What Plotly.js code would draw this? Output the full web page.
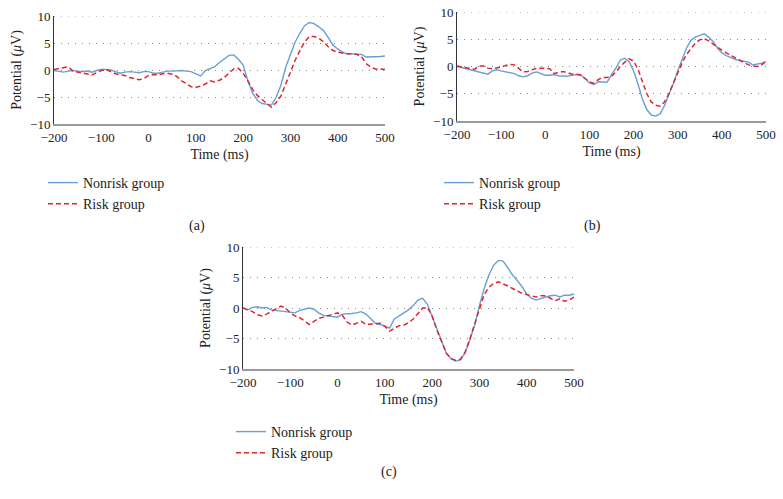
<!DOCTYPE html>
<html>
<head>
<meta charset="utf-8">
<script src="https://cdn.plot.ly/plotly-3.0.1.min.js"></script>
<style>html,body{margin:0;padding:0;background:#fff;}#chart{width:783px;height:499px;}</style>
</head>
<body>
<div id="chart"></div>
<script>
// Time axis (ms)
const time = [-200,-190,-180,-170,-160,-150,-140,-130,-120,-110,-100,-90,-80,-70,-60,-50,-40,-30,-20,-10,
  0,10,20,30,40,50,60,70,80,90,100,110,120,130,140,150,160,170,180,190,
  200,210,220,230,240,250,260,270,280,290,300,310,320,330,340,350,360,370,380,390,
  400,410,420,430,440,450,460,470,480,490,500];

// Panel (a)
const a_nonrisk = [-0.1,-0.3,-0.4,-0.2,-0.1,-0.2,-0.3,-0.2,-0.4,-0.1,0.1,0.1,0.0,-0.3,-0.6,-0.4,-0.3,-0.4,-0.5,-0.3,
  -0.3,-0.6,-0.6,-0.4,-0.2,-0.2,-0.1,-0.1,-0.2,-0.3,-0.7,-1.1,-0.1,0.2,0.6,1.4,2.0,2.7,2.8,2.0,
  0.9,-2.0,-4.3,-5.6,-6.2,-6.4,-6.5,-5.0,-2.8,0.5,3.0,5.2,6.8,8.2,8.8,8.6,8.0,7.3,6.0,4.6,
  3.9,3.3,3.0,3.0,3.0,2.9,2.4,2.4,2.4,2.5,2.6];
const a_risk = [0.1,0.3,0.4,0.6,-0.2,-0.4,-0.5,-0.7,-0.9,-0.5,-0.1,0.1,-0.3,-0.7,-0.9,-1.0,-1.4,-1.6,-1.8,-1.6,
  -1.0,-0.9,-0.9,-0.7,-0.6,-0.8,-1.2,-2.0,-2.6,-3.1,-3.2,-3.0,-2.6,-2.0,-2.2,-1.9,-1.4,-0.6,0.2,0.3,
  -0.6,-2.0,-3.6,-4.7,-5.5,-6.2,-6.9,-6.0,-4.8,-2.5,-0.3,1.8,3.6,5.2,6.2,6.2,5.9,5.2,4.3,3.6,
  3.3,3.1,3.0,3.0,2.9,2.5,1.2,0.5,0.2,0.2,0.1];

// Panel (b)
const b_nonrisk = [0.0,-0.2,-0.3,-0.5,-0.7,-0.9,-1.1,-1.4,-0.8,-0.6,-0.8,-1.0,-1.1,-1.3,-1.7,-1.9,-1.7,-1.2,-1.0,-1.3,
  -1.6,-1.6,-1.5,-1.7,-1.8,-1.8,-1.6,-1.5,-1.6,-2.2,-3.0,-3.3,-2.8,-2.8,-2.9,-1.5,-0.3,1.2,1.5,0.9,
  -0.8,-3.2,-6.0,-7.9,-8.9,-9.1,-8.7,-7.2,-5.3,-3.1,-0.8,1.2,3.4,4.8,5.4,5.7,6.0,5.4,4.6,3.4,
  2.5,2.0,1.6,1.3,1.1,0.9,0.8,0.3,0.4,0.6,0.9];
const b_risk = [0.1,-0.1,-0.2,-0.4,-0.5,0.1,0.1,-0.3,-0.4,-0.3,-0.1,0.2,0.4,0.3,-0.3,-1.0,-0.9,-0.6,-0.3,-0.3,
  -0.3,-0.4,-1.3,-1.1,-0.9,-1.1,-1.4,-1.4,-1.5,-2.2,-2.8,-3.1,-2.4,-2.0,-2.0,-1.8,-1.0,0.0,0.8,1.4,
  1.0,-0.5,-2.8,-5.0,-6.5,-7.1,-7.3,-6.5,-5.0,-3.0,-1.0,0.7,2.2,3.3,4.3,4.9,5.1,4.7,4.1,3.5,
  3.0,2.5,2.0,1.6,1.2,0.8,0.3,0.1,0.0,0.3,0.9];

// Panel (c)
const c_nonrisk = [0.0,-0.3,0.1,0.2,0.0,0.1,-0.3,-0.4,-0.5,-0.5,-0.6,-0.8,-0.4,-0.2,0.0,-0.2,-0.8,-1.2,-1.3,-1.3,
  -1.5,-1.0,-1.0,-0.9,-0.8,-0.6,-1.0,-1.8,-2.5,-2.7,-3.0,-3.3,-1.8,-1.3,-0.9,-0.3,0.4,1.3,1.6,0.6,
  -1.4,-3.5,-5.6,-7.4,-8.3,-8.7,-8.5,-7.3,-5.2,-2.8,0.4,3.2,5.4,7.0,7.8,7.7,6.6,5.4,4.5,3.5,
  2.3,1.6,1.3,1.6,1.8,2.0,2.1,1.8,2.1,2.1,2.3];
const c_risk = [0.0,-0.3,-0.6,-1.1,-1.3,-1.0,-0.6,-0.1,0.3,0.0,-0.8,-1.3,-1.6,-2.1,-2.7,-2.2,-1.7,-1.5,-1.3,-1.0,
  -0.8,-1.2,-2.3,-2.8,-2.5,-2.2,-2.7,-2.7,-2.6,-2.5,-3.0,-3.8,-3.3,-2.9,-2.8,-2.4,-1.8,-0.9,0.0,0.1,
  -1.3,-3.6,-5.6,-7.4,-8.3,-8.6,-8.4,-7.2,-5.0,-2.5,0.0,2.2,3.4,4.0,4.3,4.0,3.6,3.2,2.8,2.4,
  2.2,2.0,1.8,2.0,2.0,1.6,1.2,1.5,1.1,1.3,1.8];

const xTickVals = [-200,-100,0,100,200,300,400,500];
const yTickVals = [-10,-5,0,5,10];
const seriesNames = ['Nonrisk group','Risk group'];
const panelLabels = ['(a)','(b)','(c)'];

const SERIF = '"Liberation Serif", "DejaVu Serif", serif';
const BLUE = '#6a9fd6';
const RED = '#e0262b';
const GRID = '#8a8a8a';
const W = 783, H = 499;

function px(v){ return v / W; }
function py(v){ return 1 - v / H; }

const panels = [
  {nr: a_nonrisk, r: a_risk, x0: 54, x1: 385, yt: 16, yb: 124, leg: {x: 43, y: 167}, lab: {x: 197, y: 226}},
  {nr: b_nonrisk, r: b_risk, x0: 457, x1: 766, yt: 12, yb: 121, leg: {x: 439, y: 167}, lab: {x: 592, y: 226}},
  {nr: c_nonrisk, r: c_risk, x0: 243, x1: 574, yt: 247, yb: 369, leg: {x: 231, y: 416}, lab: {x: 389, y: 472}}
];

const data = [];
const layout = {
  width: W, height: H,
  margin: {l: 0, r: 0, t: 0, b: 0},
  paper_bgcolor: '#ffffff', plot_bgcolor: '#ffffff',
  font: {family: SERIF, size: 13, color: '#222'},
  showlegend: true,
  annotations: [],
  shapes: []
};

panels.forEach((p, i) => {
  const sfx = i === 0 ? '' : String(i + 1);
  const legKey = 'legend' + sfx;
  data.push({
    x: time, y: p.nr, type: 'scatter', mode: 'lines', name: seriesNames[0],
    xaxis: 'x' + sfx, yaxis: 'y' + sfx, legend: legKey,
    line: {color: BLUE, width: 1.4}
  });
  data.push({
    x: time, y: p.r, type: 'scatter', mode: 'lines', name: seriesNames[1],
    xaxis: 'x' + sfx, yaxis: 'y' + sfx, legend: legKey,
    line: {color: RED, width: 1.5, dash: '5px,3px'}
  });
  layout['xaxis' + sfx] = {
    domain: [px(p.x0), px(p.x1)], anchor: 'y' + sfx,
    range: [-200, 500], tickvals: xTickVals, ticks: '',
    showgrid: false, zeroline: false,
    showline: true, linecolor: '#9a9a9a', linewidth: 2,
    tickfont: {family: SERIF, size: 13, color: '#222'},
    title: {text: 'Time (ms)', font: {family: SERIF, size: 14, color: '#222'}, standoff: 6}
  };
  layout['yaxis' + sfx] = {
    domain: [py(p.yb), py(p.yt)], anchor: 'x' + sfx,
    range: [-10, 10], tickvals: yTickVals, ticks: '',
    showgrid: true, gridcolor: GRID, gridwidth: 1, griddash: '1px,6px',
    zeroline: false,
    showline: true, linecolor: '#333', linewidth: 1,
    tickfont: {family: SERIF, size: 13, color: '#222'},
    title: {text: 'Potential (<i>μ</i>V)', font: {family: SERIF, size: 14, color: '#222'}, standoff: 5}
  };
  // top dotted gridline at the upper range edge (Plotly drops the edge gridline)
  layout.shapes.push({
    type: 'line', xref: 'x' + sfx + ' domain', yref: 'y' + sfx,
    x0: 0, x1: 1, y0: yTickVals[yTickVals.length - 1], y1: yTickVals[yTickVals.length - 1],
    line: {color: GRID, width: 1, dash: '1px,6px'}, layer: 'below'
  });
  layout[legKey] = {
    x: px(p.leg.x), y: py(p.leg.y), xanchor: 'left', yanchor: 'top',
    xref: 'paper', yref: 'paper',
    bgcolor: 'rgba(0,0,0,0)', borderwidth: 0,
    font: {family: SERIF, size: 14, color: '#222'},
    tracegroupgap: 0, itemwidth: 30
  };
  layout.annotations.push({
    text: panelLabels[i], x: px(p.lab.x), y: py(p.lab.y),
    xref: 'paper', yref: 'paper', xanchor: 'center', yanchor: 'middle',
    showarrow: false, font: {family: SERIF, size: 14, color: '#222'}
  });
});

Plotly.newPlot('chart', data, layout, {displayModeBar: false, staticPlot: true});
</script>
</body>
</html>
